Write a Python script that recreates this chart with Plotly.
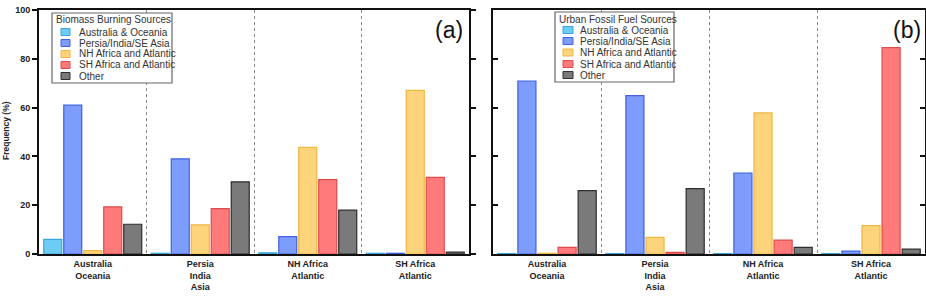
import plotly.graph_objects as go

# ---- data ----
regions = ["Australia<br>Oceania", "Persia<br>India<br>Asia", "NH Africa<br>Atlantic", "SH Africa<br>Atlantic"]
series_names = ["Australia & Oceania", "Persia/India/SE Asia", "NH Africa and Atlantic",
                "SH Africa and Atlantic", "Other"]

biomass_aus_oce = [6.0, 0.3, 0.5, 0.3]
biomass_persia = [61.0, 39.0, 7.1, 0.3]
biomass_nh_africa = [1.4, 11.9, 43.7, 67.1]
biomass_sh_africa = [19.3, 18.6, 30.5, 31.4]
biomass_other = [12.2, 29.6, 18.0, 0.8]

urban_aus_oce = [0.2, 0.2, 0.2, 0.2]
urban_persia = [70.9, 64.9, 33.2, 1.2]
urban_nh_africa = [0.3, 6.8, 57.8, 11.6]
urban_sh_africa = [2.7, 0.7, 5.7, 84.6]
urban_other = [26.0, 26.8, 2.7, 2.0]

y_ticks = [0, 20, 40, 60, 80, 100]

# ---- styles ----
fills = ["#6cccf4", "#7e9cfb", "#fdd47c", "#ff7b7b", "#7a7a7a"]
edges = ["#3aa6dc", "#3f63e0", "#efb640", "#e04a4a", "#2e2e2e"]

W, H = 926, 304
def px(x):
    return x / W
def py(y):
    return 1 - y / H

biomass = [biomass_aus_oce, biomass_persia, biomass_nh_africa, biomass_sh_africa, biomass_other]
urban = [urban_aus_oce, urban_persia, urban_nh_africa, urban_sh_africa, urban_other]

fig = go.Figure()
for i, name in enumerate(series_names):
    fig.add_trace(go.Bar(x=regions, y=biomass[i], name=name, xaxis="x", yaxis="y",
                         marker=dict(color=fills[i], line=dict(color=edges[i], width=1.2)),
                         showlegend=False, offsetgroup=str(i)))
for i, name in enumerate(series_names):
    fig.add_trace(go.Bar(x=regions, y=urban[i], name=name, xaxis="x2", yaxis="y2",
                         marker=dict(color=fills[i], line=dict(color=edges[i], width=1.2)),
                         showlegend=False, offsetgroup=str(i)))

ydom = [50 / H, 1 - 10 / H]
xcommon = dict(type="category", range=[-0.5, 3.5], tickson="boundaries", ticks="",
               showgrid=True, gridcolor="#8a8a8a", griddash="dot", gridwidth=1,
               showline=True, linecolor="#111", linewidth=2, mirror=True,
               tickfont=dict(family="Arial", size=9, color="#222", weight="bold"),
               automargin=False, fixedrange=True)

fig.update_layout(
    width=W, height=H, autosize=False,
    margin=dict(l=0, r=0, t=0, b=0),
    paper_bgcolor="white", plot_bgcolor="white",
    barmode="group", bargap=0.07, bargroupgap=0.1,
    font=dict(family="Arial, Liberation Sans", color="#222"),
    xaxis=dict(domain=[px(39), px(469)], anchor="y", **xcommon),
    xaxis2=dict(domain=[px(493), px(925)], anchor="y2", **xcommon),
    yaxis=dict(domain=ydom, anchor="x", range=[0, 100], tickvals=y_ticks,
               ticks="outside", ticklen=5, tickwidth=2, tickcolor="#111",
               showline=True, linecolor="#111", linewidth=2, mirror="ticks",
               showgrid=False, zeroline=False, automargin=False,
               tickfont=dict(family="Arial", size=9, color="#222", weight="bold")),
    yaxis2=dict(domain=ydom, anchor="x2", range=[0, 100], tickvals=y_ticks,
                ticks="inside", ticklen=5, tickwidth=2, tickcolor="#111",
                showline=True, linecolor="#111", linewidth=2, mirror="ticks",
                showgrid=False, zeroline=False, automargin=False, showticklabels=False),
)

annotations = []
shapes = []

# y axis title
annotations.append(dict(text="<b>Frequency (%)</b>", x=px(6), y=py(131), xref="paper", yref="paper",
                        textangle=-90, showarrow=False, font=dict(family="Arial", size=8.5, color="#222"),
                        xanchor="center", yanchor="middle"))

# panel labels
for lab, xc in [("(a)", 449), ("(b)", 907)]:
    annotations.append(dict(text=lab, x=px(xc), y=py(30), xref="paper", yref="paper",
                            showarrow=False, font=dict(family="Arial", size=23, color="#111"),
                            xanchor="center", yanchor="middle"))

# custom legends (boxes)
legends = [
    dict(title="Biomass Burning Sources", box=(52, 13, 172, 83), title_x=54, title_y=20,
         rows=[32, 43, 54, 65, 76], sq=(61, 70), tx=77),
    dict(title="Urban Fossil Fuel Sources", box=(555, 12, 674, 82), title_x=557, title_y=19,
         rows=[30, 41, 52.5, 64, 75], sq=(563, 573), tx=578),
]
for lg in legends:
    x0, y0, x1, y1 = lg["box"]
    shapes.append(dict(type="rect", xref="paper", yref="paper", x0=px(x0), x1=px(x1),
                       y0=py(y0), y1=py(y1), line=dict(color="#666", width=1.2),
                       fillcolor="white", layer="above"))
    annotations.append(dict(text=lg["title"], x=px(lg["title_x"]), y=py(lg["title_y"]),
                            xref="paper", yref="paper", showarrow=False, xanchor="left",
                            yanchor="middle", font=dict(family="Arial", size=10, color="#333")))
    for i, name in enumerate(series_names):
        yc = lg["rows"][i]
        shapes.append(dict(type="rect", xref="paper", yref="paper", x0=px(lg["sq"][0]),
                           x1=px(lg["sq"][1]), y0=py(yc - 3.5), y1=py(yc + 3.5),
                           fillcolor=fills[i], line=dict(color=edges[i], width=1), layer="above"))
        annotations.append(dict(text=name, x=px(lg["tx"]), y=py(yc), xref="paper", yref="paper",
                                showarrow=False, xanchor="left", yanchor="middle",
                                font=dict(family="Arial", size=10, color="#333")))

fig.update_layout(annotations=annotations, shapes=shapes)
fig.write_html("out.html", config={"displayModeBar": False},
               post_script="document.body.style.margin='0';")
